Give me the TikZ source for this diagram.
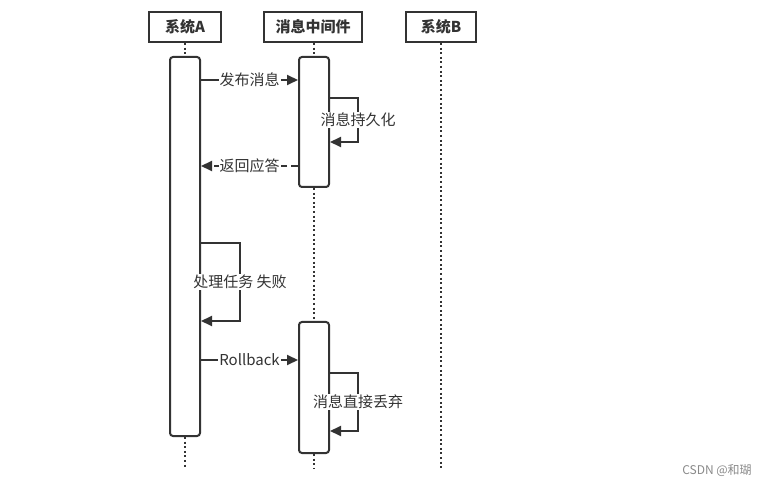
\documentclass[tikz,border=0pt]{standalone}
\usepackage{fontspec}
\setmainfont{Noto Sans CJK SC}
\usetikzlibrary{arrows.meta}
\definecolor{ln}{HTML}{333333}
\definecolor{wm}{HTML}{8A8A8A}
\begin{document}
\begin{tikzpicture}[x=1pt,y=-1pt,
  actor/.style={draw=ln, line width=2pt, minimum height=30pt, inner sep=0pt,
    font=\fontsize{15}{17}\selectfont\bfseries, text=ln},
  act/.style={draw=ln, fill=white, line width=2pt, rounded corners=3pt,
    minimum width=30pt, inner sep=0pt},
  life/.style={draw=ln, line width=2pt, dash pattern=on 2pt off 2.6pt},
  msg/.style={draw=ln, line width=2pt, -{Triangle[length=11pt,width=10pt]}},
  lbl/.style={fill=white, inner sep=1pt, font=\fontsize{15}{17}\selectfont, text=ln}]
\useasboundingbox[fill=white] (0,0) rectangle (766,486);

% actor boxes
\node[actor, minimum width=72pt] (sa) at (185,27) {系统A};
\node[actor, minimum width=98pt] (mq) at (313,27) {消息中间件};
\node[actor, minimum width=70pt] (sb) at (441,27) {系统B};

% end points of lifelines
\coordinate (ea) at (185,468);
\coordinate (em) at (314,468);
\coordinate (eb) at (441,468);

% activation bars
\node[act, minimum height=379pt] (actA) at (185,246.5) {};
\node[act, minimum height=130pt] (m1) at (314,122) {};
\node[act, minimum height=131pt] (m2) at (314,387.5) {};

% lifelines
\draw[life] (sa.south) -- (actA.north);
\draw[life] (actA.south) -- (ea);
\draw[life] (mq.south -| m1.north) -- (m1.north);
\draw[life] (m1.south) -- (m2.north);
\draw[life] (m2.south) -- (em);
\draw[life] (sb.south) -- (eb);

% messages
\draw[msg] (actA.east |- 0,80) -- node[lbl] {发布消息} (m1.west |- 0,80);
\draw[msg] (m1.east |- 0,98) -- (358,98) -- node[lbl] {消息持久化} (358,142) -- (m1.east |- 0,142);
\draw[msg, dash pattern=on 7pt off 4pt] (m1.west |- 0,166) -- node[lbl] {返回应答} (actA.east |- 0,166);
\draw[msg] (actA.east |- 0,243) -- (240,243) -- node[lbl] {处理任务 失败} (240,321) -- (actA.east |- 0,321);
\draw[msg] (actA.east |- 0,360) -- node[lbl] {Rollback} (m2.west |- 0,360);
\draw[msg] (m2.east |- 0,373) -- (358,373) -- node[lbl] {消息直接丢弃} (358,431) -- (m2.east |- 0,431);

% watermark
\node[text=wm, font=\fontsize{12}{14}\selectfont, inner sep=0pt] (wmk) at (717,471) {CSDN @和瑚};
\end{tikzpicture}
\end{document}
